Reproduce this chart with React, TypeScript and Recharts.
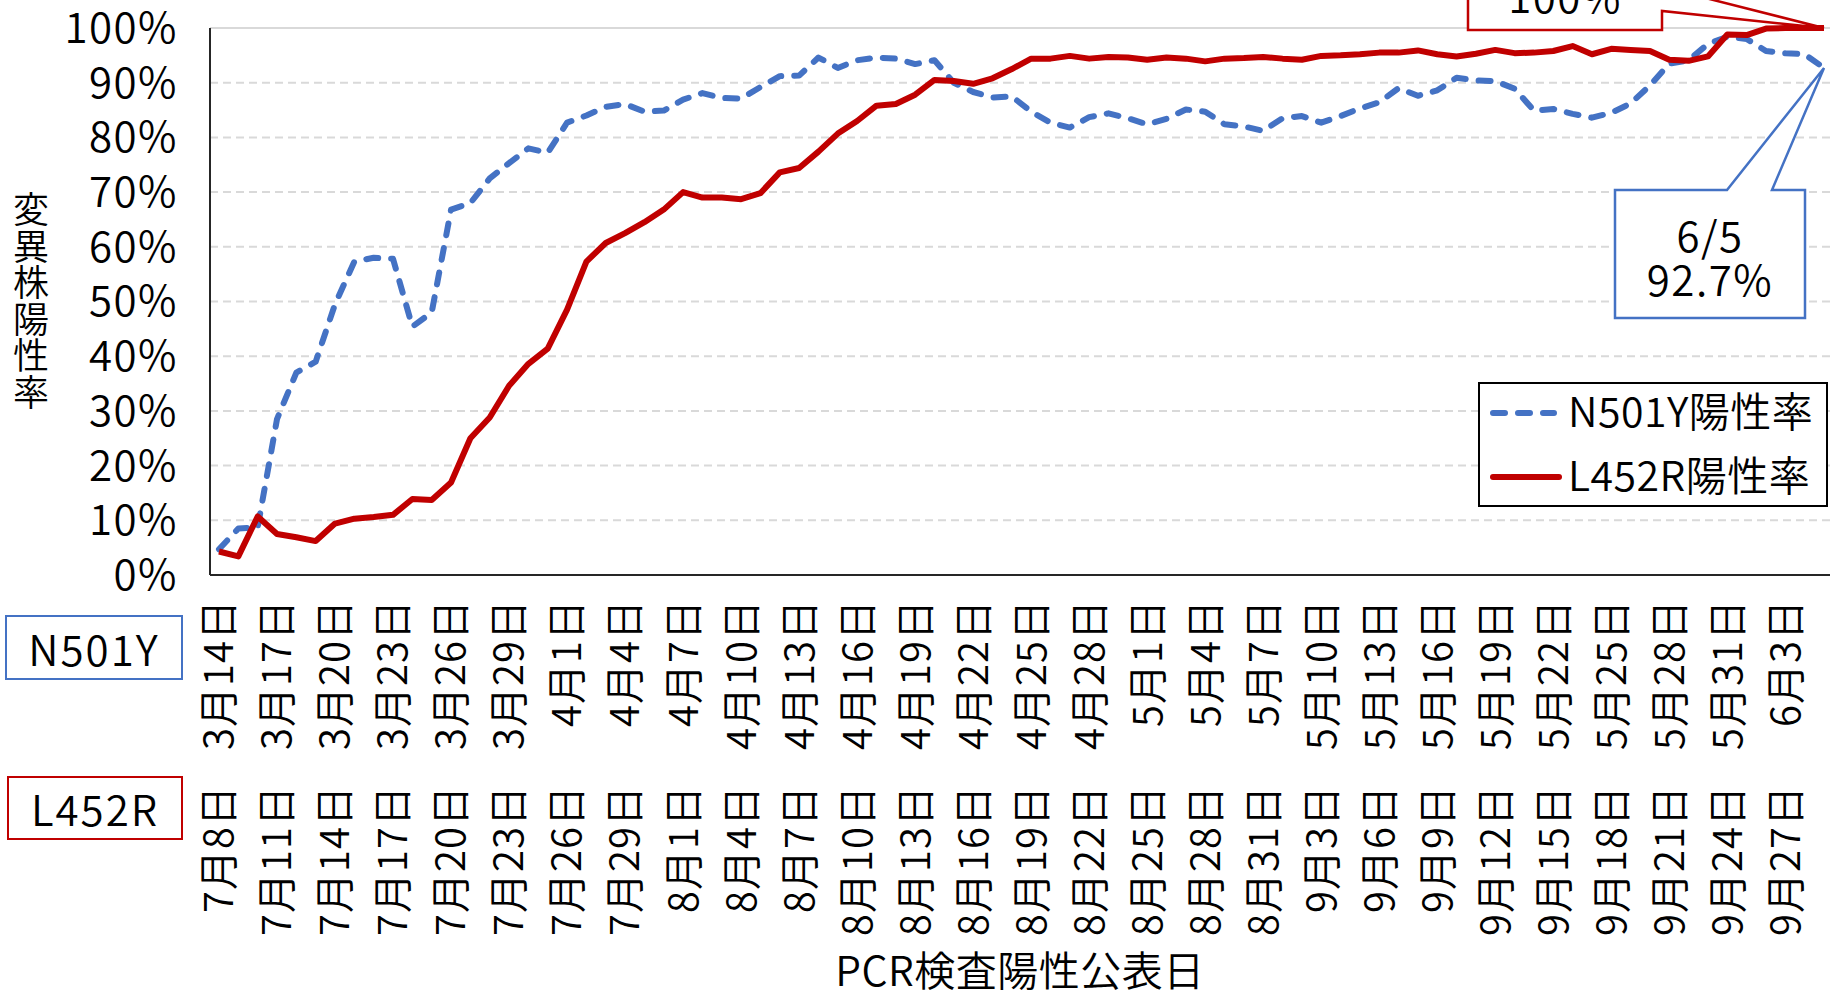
import React from 'react';
import { LineChart, Line, XAxis, YAxis, CartesianGrid, Legend, LabelList, ReferenceLine } from 'recharts';

const FONT = "'Noto Sans CJK JP', 'Noto Sans', sans-serif";
const WEIGHT = 350;
const BLUE = '#4472C4';
const RED = '#C00000';

// N501Y: 3/14 - 6/5
const n501yDates = [
    '3月14日', '3月15日', '3月16日', '3月17日', '3月18日', '3月19日', '3月20日', '3月21日', '3月22日',
    '3月23日', '3月24日', '3月25日', '3月26日', '3月27日', '3月28日', '3月29日', '3月30日', '3月31日',
    '4月1日', '4月2日', '4月3日', '4月4日', '4月5日', '4月6日', '4月7日', '4月8日', '4月9日', '4月10日',
    '4月11日', '4月12日', '4月13日', '4月14日', '4月15日', '4月16日', '4月17日', '4月18日', '4月19日', '4月20日',
    '4月21日', '4月22日', '4月23日', '4月24日', '4月25日', '4月26日', '4月27日', '4月28日', '4月29日', '4月30日',
    '5月1日', '5月2日', '5月3日', '5月4日', '5月5日', '5月6日', '5月7日', '5月8日', '5月9日', '5月10日',
    '5月11日', '5月12日', '5月13日', '5月14日', '5月15日', '5月16日', '5月17日', '5月18日', '5月19日', '5月20日',
    '5月21日', '5月22日', '5月23日', '5月24日', '5月25日', '5月26日', '5月27日', '5月28日', '5月29日', '5月30日',
    '5月31日', '6月1日', '6月2日', '6月3日', '6月4日', '6月5日',
];

// L452R: 7/8 - 9/29
const l452rDates = [
    '7月8日', '7月9日', '7月10日', '7月11日', '7月12日', '7月13日', '7月14日', '7月15日', '7月16日', '7月17日',
    '7月18日', '7月19日', '7月20日', '7月21日', '7月22日', '7月23日', '7月24日', '7月25日', '7月26日', '7月27日',
    '7月28日', '7月29日', '7月30日', '7月31日',
    '8月1日', '8月2日', '8月3日', '8月4日', '8月5日', '8月6日', '8月7日', '8月8日', '8月9日', '8月10日',
    '8月11日', '8月12日', '8月13日', '8月14日', '8月15日', '8月16日', '8月17日', '8月18日', '8月19日', '8月20日',
    '8月21日', '8月22日', '8月23日', '8月24日', '8月25日', '8月26日', '8月27日', '8月28日', '8月29日', '8月30日',
    '8月31日',
    '9月1日', '9月2日', '9月3日', '9月4日', '9月5日', '9月6日', '9月7日', '9月8日', '9月9日', '9月10日',
    '9月11日', '9月12日', '9月13日', '9月14日', '9月15日', '9月16日', '9月17日', '9月18日', '9月19日', '9月20日',
    '9月21日', '9月22日', '9月23日', '9月24日', '9月25日', '9月26日', '9月27日', '9月28日', '9月29日',
];

const n501yRate = [
    4.7, 8.5, 8.7, 28.5, 37, 39, 49.5, 57.3, 58, 57.8,
    45.4, 48, 66.8, 68, 72.5, 75.3, 78, 77.2, 82.7, 84,
    85.6, 86.1, 84.7, 84.9, 86.9, 88.1, 87.2, 87.1, 89.2, 91.2,
    91.3, 94.6, 92.7, 94.1, 94.6, 94.4, 93.4, 94.1, 90, 88.3,
    87.3, 87.5, 84.7, 82.7, 81.8, 83.7, 84.4, 83.5, 82.4, 83.4,
    85.1, 84.7, 82.4, 82, 81.2, 83.5, 83.9, 82.7, 83.9, 85.3,
    86.4, 89, 87.6, 88.6, 90.9, 90.4, 90.3, 88.9, 84.9, 85.2,
    84.3, 83.6, 84.5, 86.2, 89.5, 93.5, 94.1, 97.1, 98.4, 98,
    95.8, 95.4, 95.2, 92.7,
];

const l452rRate = [
    4.3, 3.4, 10.7, 7.5, 6.9, 6.2, 9.4, 10.3, 10.6, 11,
    13.9, 13.7, 16.9, 25, 28.8, 34.6, 38.6, 41.4, 48.5, 57.3,
    60.7, 62.5, 64.5, 66.8, 70, 69, 69, 68.7, 69.8, 73.6,
    74.4, 77.4, 80.7, 83, 85.8, 86.1, 87.8, 90.5, 90.3, 89.8,
    90.8, 92.5, 94.4, 94.4, 94.9, 94.4, 94.7, 94.6, 94.2, 94.6,
    94.4, 93.9, 94.4, 94.5, 94.7, 94.4, 94.2, 94.9, 95, 95.2,
    95.5, 95.5, 95.9, 95.2, 94.8, 95.3, 96, 95.4, 95.5, 95.8,
    96.7, 95.2, 96.2, 96, 95.8, 94.2, 94, 94.8, 98.8, 98.7,
    99.9, 100, 100, 100,
];

const yTicks = [0, 10, 20, 30, 40, 50, 60, 70, 80, 90, 100];
const seriesNames = ['N501Y陽性率', 'L452R陽性率'];
const variantTags = ['N501Y', 'L452R'];
const n501yNote = ['6/5', '92.7%'];
const l452rNote = ['9/29', '100%'];
const Y_TITLE = '変異株陽性率';
const X_TITLE = 'PCR検査陽性公表日';

const data = n501yDates.map((d, i) => ({
    n501yDate: d,
    l452rDate: l452rDates[i],
    n501y: n501yRate[i],
    l452r: l452rRate[i],
}));
const LAST = data.length - 1;

const DateTick = (props: any) => {
    const { x, y, payload } = props;
    return (
        <text
            transform={`translate(${x},${y + 24}) rotate(-90)`}
            textAnchor="end"
            dy="0.36em"
            fontSize={40}
            fontWeight={WEIGHT}
            letterSpacing={1}
            fontFamily={FONT}
            fill="#000"
        >
            {payload.value}
        </text>
    );
};

// vertical axis title, one character per row
const YTitle = (props: any) => {
    const vb = props.viewBox || { y: 28, height: 547 };
    const cy = vb.y + vb.height / 2;
    const chars = Array.from(Y_TITLE);
    const step = 36.5;
    const top = cy - (chars.length * step) / 2;
    return (
        <text textAnchor="middle" fontSize={36} fontWeight={WEIGHT} fontFamily={FONT} fill="#000">
            {chars.map((c, i) => (
                <tspan key={i} x={31} y={top + step * (i + 0.86)}>{c}</tspan>
            ))}
        </text>
    );
};

const XTitle = (props: any) => {
    const vb = props.viewBox || { x: 210, y: 761, width: 1620 };
    return (
        <text x={vb.x + vb.width / 2} y={vb.y + 211} dy="0.35em" textAnchor="middle"
            fontSize={41} fontWeight={WEIGHT} letterSpacing={0.5} fontFamily={FONT} fill="#000">
            {X_TITLE}
        </text>
    );
};

const pointOf = (props: any) => ({
    x: props.x ?? props.viewBox?.x,
    y: props.y ?? props.viewBox?.y,
});

const noteText = (x: number, y: number, s: string) => (
    <text x={x} y={y} dy="0.35em" textAnchor="middle" fontSize={42} fontWeight={WEIGHT}
        letterSpacing={1.5} fontFamily={FONT} fill="#000">{s}</text>
);

const BlueCallout = (props: any) => {
    if (props.index !== LAST) return null;
    const { x, y } = pointOf(props);
    const d = `M${x - 209},${y + 122} L${x - 97},${y + 122} L${x},${y} L${x - 52},${y + 122} L${x - 19},${y + 122} L${x - 19},${y + 250} L${x - 209},${y + 250} Z`;
    return (
        <g>
            <path d={d} fill="#fff" stroke={BLUE} strokeWidth={2.5} />
            {noteText(x - 114, y + 169, n501yNote[0])}
            {noteText(x - 114, y + 213, n501yNote[1])}
        </g>
    );
};

const RedCallout = (props: any) => {
    if (props.index !== LAST) return null;
    const { x, y } = pointOf(props);
    const d = `M${x - 356},${y - 126} L${x - 162},${y - 126} L${x - 162},${y - 41} L${x},${y} L${x - 162},${y - 17} L${x - 162},${y + 2} L${x - 356},${y + 2} Z`;
    return (
        <g>
            <path d={d} fill="#fff" stroke={RED} strokeWidth={2.5} />
            {noteText(x - 259, y - 74, l452rNote[0])}
            {noteText(x - 259, y - 30, l452rNote[1])}
        </g>
    );
};

const LegendBox = () => (
    <div style={{ width: 350, height: 125, boxSizing: 'border-box', border: '2px solid #000', background: '#fff' }}>
        <svg width={346} height={121} style={{ display: 'block' }}>
            <line x1={13} y1={29} x2={74} y2={29} stroke={BLUE} strokeWidth={6} strokeDasharray="12 13" strokeLinecap="round" />
            <text x={88} y={29} dy="0.35em" fontSize={41} fontWeight={WEIGHT} letterSpacing={0.5} fontFamily={FONT} fill="#000">{seriesNames[0]}</text>
            <line x1={13} y1={93} x2={79} y2={93} stroke={RED} strokeWidth={6} strokeLinecap="round" />
            <text x={88} y={93} dy="0.35em" fontSize={41} fontWeight={WEIGHT} letterSpacing={0.5} fontFamily={FONT} fill="#000">{seriesNames[1]}</text>
        </svg>
    </div>
);

const tagStyle = (color: string, left: number, top: number, width: number, height: number): React.CSSProperties => ({
    position: 'absolute',
    left, top, width, height,
    boxSizing: 'border-box',
    border: `2px solid ${color}`,
    background: '#fff',
    display: 'flex',
    alignItems: 'center',
    justifyContent: 'center',
    fontFamily: FONT,
    fontWeight: WEIGHT,
    fontSize: 42,
    letterSpacing: 2,
    color: '#000',
    lineHeight: 1,
});

export default function App() {
    return (
        <div style={{ position: 'absolute', left: 0, top: 0, width: 1830, height: 993, background: '#fff', overflow: 'hidden' }}>
            <LineChart width={1830} height={993} data={data} margin={{ top: 28, right: 0, bottom: 0, left: 0 }}>
                <CartesianGrid vertical={false} stroke="#d9d9d9" strokeDasharray="8 5" strokeWidth={2} />
                <ReferenceLine y={100} stroke="#d9d9d9" strokeWidth={2} />
                <XAxis
                    dataKey="n501yDate"
                    height={186}
                    interval={2}
                    padding={{ left: 9, right: 6 }}
                    tick={<DateTick />}
                    tickLine={false}
                    tickSize={0}
                    tickMargin={0}
                    axisLine={{ stroke: '#262626', strokeWidth: 2 }}
                />
                <XAxis
                    xAxisId="l"
                    dataKey="l452rDate"
                    height={232}
                    interval={2}
                    padding={{ left: 9, right: 6 }}
                    tick={<DateTick />}
                    tickLine={false}
                    tickSize={0}
                    tickMargin={0}
                    axisLine={false}
                    label={{ content: XTitle }}
                />
                <YAxis
                    width={210}
                    domain={[0, 100]}
                    ticks={yTicks}
                    interval={0}
                    tickFormatter={(v: number) => `${v}%`}
                    tick={{ fontSize: 42, fill: '#000', fontFamily: FONT, fontWeight: WEIGHT, letterSpacing: 1.5 }}
                    tickLine={false}
                    tickSize={0}
                    tickMargin={32}
                    axisLine={{ stroke: '#262626', strokeWidth: 2 }}
                    label={{ content: YTitle }}
                />
                <Line
                    dataKey="n501y"
                    name={seriesNames[0]}
                    stroke={BLUE}
                    strokeWidth={6}
                    strokeDasharray="12 13"
                    strokeLinecap="round"
                    strokeLinejoin="round"
                    dot={false}
                    activeDot={false}
                    type="linear"
                    isAnimationActive={false}
                >
                    <LabelList dataKey="n501y" content={BlueCallout} />
                </Line>
                <Line
                    xAxisId="l"
                    dataKey="l452r"
                    name={seriesNames[1]}
                    stroke={RED}
                    strokeWidth={6}
                    strokeLinejoin="round"
                    dot={false}
                    activeDot={false}
                    type="linear"
                    isAnimationActive={false}
                >
                    <LabelList dataKey="l452r" content={RedCallout} />
                </Line>
                <Legend
                    layout="vertical"
                    align="center"
                    verticalAlign="middle"
                    content={<LegendBox />}
                    wrapperStyle={{ position: 'absolute', left: 1478, top: 382, width: 350, height: 125 }}
                />
            </LineChart>
            <div style={tagStyle(BLUE, 5, 615, 178, 65)}>{variantTags[0]}</div>
            <div style={tagStyle(RED, 7, 776, 176, 64)}>{variantTags[1]}</div>
        </div>
    );
}
